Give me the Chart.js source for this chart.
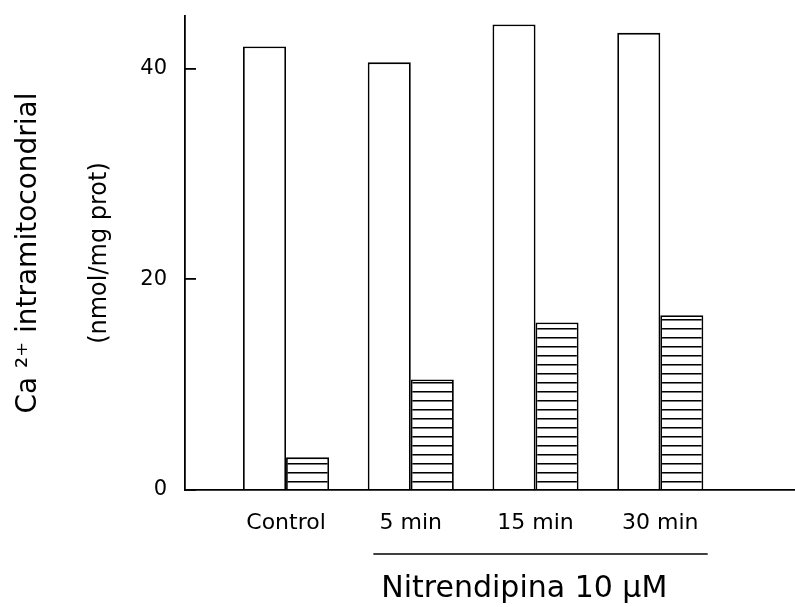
<!DOCTYPE html>
<html>
<head>
<meta charset="utf-8">
<script src="https://cdn.jsdelivr.net/npm/chart.js@4"></script>
<style>
  body { margin: 0; background: #fff; }
  canvas { display: block; }
</style>
</head>
<body>
<canvas id="myChart" width="795" height="607"></canvas>
<script>
// données
const categories = ['Control', '5 min', '15 min', '30 min'];
const caTotal = [42.1, 40.6, 44.2, 43.4];
const caNitrendipina = [3.1, 10.5, 15.9, 16.6];
const yTicks = [0, 20, 40];

const FONT = 'DejaVu Sans';

// motif hachuré horizontal
function hatch() {
  const c = document.createElement('canvas');
  c.width = 10;
  c.height = 9;
  const g = c.getContext('2d');
  g.fillStyle = '#fff';
  g.fillRect(0, 0, 10, 9);
  g.fillStyle = '#000';
  g.fillRect(0, 4, 10, 1);
  g.fillStyle = '#777';
  g.fillRect(0, 5, 10, 1);
  return g.createPattern(c, 'repeat');
}

// trait + "Nitrendipina 10 µM" sous les trois derniers groupes
const groupLabel = {
  id: 'groupLabel',
  afterDraw(chart) {
    const ctx = chart.ctx;
    const x = chart.scales.x;
    const x1 = x.getPixelForValue(0.7);
    const x2 = x.getPixelForValue(3.38);
    ctx.save();
    ctx.strokeStyle = '#000';
    ctx.lineWidth = 1.5;
    ctx.beginPath();
    ctx.moveTo(x1, 554);
    ctx.lineTo(x2, 554);
    ctx.stroke();
    ctx.fillStyle = '#000';
    ctx.font = '30px "' + FONT + '"';
    ctx.textAlign = 'center';
    ctx.textBaseline = 'middle';
    ctx.fillText('Nitrendipina 10 \u00b5M', x.getPixelForValue(1.91), 589);
    ctx.restore();
  }
};

Chart.defaults.color = '#000';
Chart.defaults.font.family = FONT;

const data = {
  datasets: [{
    data: caTotal.map((v, i) => ({x: i, y: v})),
    backgroundColor: '#fff',
    borderColor: '#000',
    borderWidth: 1.8
  }, {
    data: caNitrendipina.map((v, i) => ({x: i, y: v})),
    backgroundColor: hatch(),
    borderColor: '#000',
    borderWidth: 1.8
  }]
};

const config = {
  type: 'bar',
  data: data,
  options: {
    responsive: false,
    animation: false,
    categoryPercentage: 0.69,
    barPercentage: 1,
    layout: { padding: { top: 16, right: 0, left: 0, bottom: 0 } },
    plugins: { legend: { display: false }, tooltip: { enabled: false } },
    scales: {
      x: {
        type: 'linear',
        offset: false,
        min: -0.81,
        max: 4.08,
        grid: { display: false, drawTicks: false },
        border: { display: true, color: '#000', width: 1.8 },
        ticks: {
          stepSize: 1,
          includeBounds: false,
          autoSkip: false,
          maxRotation: 0,
          padding: 20,
          font: { size: 22 },
          callback: (v) => categories[v] ?? ''
        },
        afterFit: (s) => { s.height = 117; s.paddingLeft = 0; s.paddingRight = 0; }
      },
      y: {
        min: 0,
        max: 45,
        weight: 0,
        grid: { drawOnChartArea: false, drawTicks: true, tickLength: -11, color: '#000', lineWidth: 1.8 },
        border: { display: true, color: '#000', width: 1.8 },
        ticks: {
          stepSize: 20,
          includeBounds: false,
          padding: 29,
          font: { size: 21 },
          callback: (v) => yTicks.includes(v) ? String(v) : ''
        },
        title: {
          display: true,
          text: '(nmol/mg prot)',
          font: { size: 24 },
          padding: { top: 25, bottom: 0 }
        },
        afterFit: (s) => { s.width = 125; s.paddingTop = 0; s.paddingBottom = 0; }
      },
      y2: {
        type: 'linear',
        position: 'left',
        weight: 1,
        grid: { display: false },
        border: { display: false },
        ticks: { display: false },
        title: {
          display: true,
          text: 'Ca \u00b2\u207a intramitocondrial',
          font: { size: 28 },
          padding: { top: 12, bottom: 0 }
        },
        afterFit: (s) => { s.width = 60; s.paddingTop = 0; s.paddingBottom = 0; }
      }
    }
  },
  plugins: [groupLabel]
};

var myChart = new Chart(document.getElementById('myChart'), config);
</script>
</body>
</html>
